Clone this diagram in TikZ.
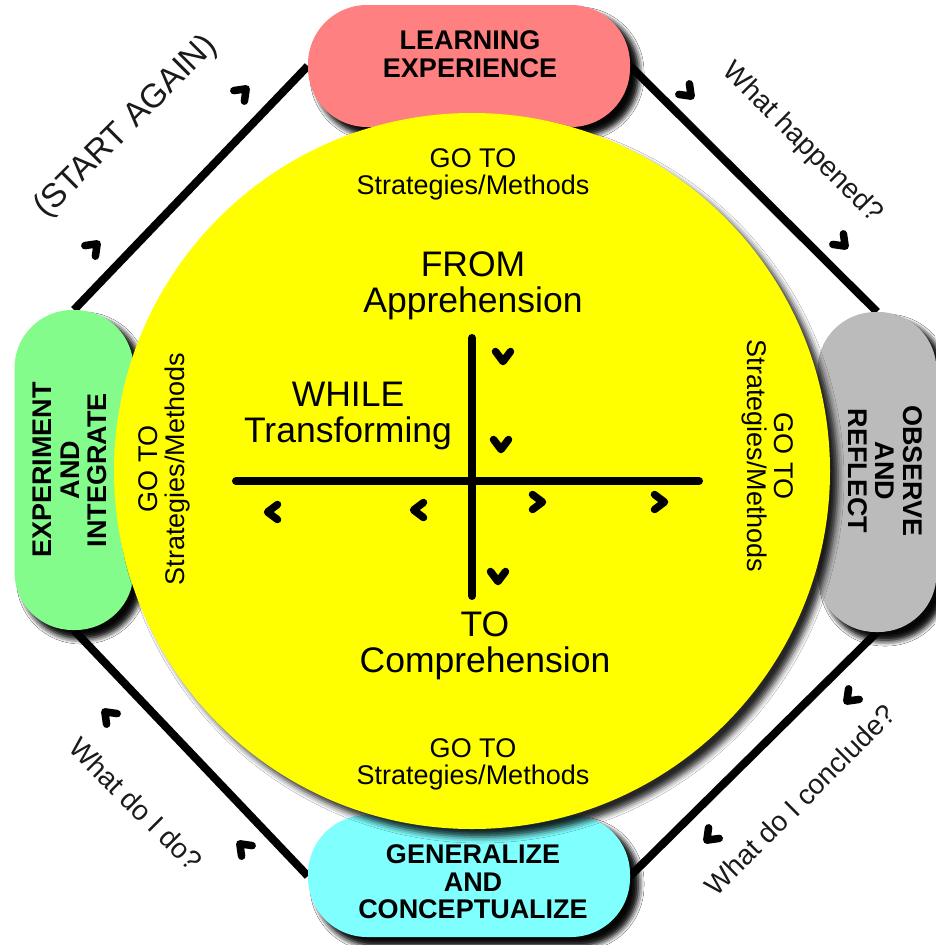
\documentclass[tikz,border=0pt]{standalone}
\usepackage{fontspec}
\setmainfont{Liberation Sans}
\usetikzlibrary{shadows.blur}
\definecolor{pinkbox}{HTML}{FF8080}
\definecolor{graybox}{HTML}{BBBBBB}
\definecolor{greenbox}{HTML}{84FC8C}
\definecolor{cyanbox}{HTML}{80FFFF}
\definecolor{yell}{HTML}{FFFF00}
\definecolor{sidetxt}{HTML}{1A1A1A}
\begin{document}
\begin{tikzpicture}[x=1pt,y=-1pt,
  shad/.style={blur shadow={shadow xshift=8pt, shadow yshift=-8pt, shadow blur radius=6pt, shadow opacity=85}},
  hpill/.style={rectangle, rounded corners=59pt, minimum width=322pt, minimum height=122pt, inner sep=0pt, shad},
  vpill/.style={rectangle, rounded corners=58pt, minimum width=119pt, minimum height=320pt, inner sep=0pt, shad},
  conn/.style={line width=8pt},
  boxtxt/.style={align=center, inner sep=0pt, font=\bfseries\fontsize{27}{27.5}\selectfont},
  lbl/.style={align=center, inner sep=0pt, font=\fontsize{27}{27}\selectfont},
  big/.style={align=center, inner sep=0pt, font=\fontsize{35.5}{35.5}\selectfont},
  side/.style={inner sep=0pt, text=sidetxt, font=\fontsize{28}{28}\selectfont},
  chev/.pic={\draw[line width=7.5pt, line cap=round, line join=round] (-5.5,-7.5) -- (4.5,0) -- (-5.5,7.5);}
]
\useasboundingbox[fill=white] (0,0) rectangle (935,945);

% boxes (positions first, so connectors can be drawn underneath)
\path node[hpill] (learn) at (469,66) {}
      node[vpill] (obs) at (877,472) {}
      node[vpill] (exp) at (74,470) {}
      node[hpill] (gen) at (469,876) {};

% outer connectors
\draw[conn] (learn.west) -- (exp.north);
\draw[conn] (learn.east) -- (obs.north);
\draw[conn] (obs.south) -- (gen.east);
\draw[conn] (gen.west) -- (exp.south);

% redraw boxes on top of connectors
\node[hpill, fill=pinkbox] (learnbox) at (learn) {};
\node[vpill, fill=graybox] (obsbox) at (obs) {};
\node[vpill, fill=greenbox] (expbox) at (exp) {};
\node[hpill, fill=cyanbox] (genbox) at (gen) {};

% central disc
\node[circle, fill=yell, minimum size=716pt, inner sep=0pt, shad] (disc) at (472,471) {};

% box texts
\node[boxtxt] (learntxt) at (470,54) {LEARNING\\EXPERIENCE};
\node[boxtxt, rotate=-90] (obstxt) at (885,471) {OBSERVE\\AND\\REFLECT};
\node[boxtxt, rotate=90] (exptxt) at (70,470) {EXPERIMENT\\AND\\INTEGRATE};
\node[boxtxt] (gentxt) at (473,882) {GENERALIZE\\AND\\CONCEPTUALIZE};

% cross
\coordinate (vt) at (472,338);
\coordinate (vb) at (472,596);
\coordinate (hl) at (236,481);
\coordinate (hr) at (699,481);
\draw[line width=8pt, line cap=round] (vt) -- (vb);
\draw[line width=8pt, line cap=round] (hl) -- (hr);

% inner chevrons
\pic[rotate=-90] at (503,357) {chev};
\pic[rotate=-90] at (501,445) {chev};
\pic[rotate=-90] at (498,577) {chev};
\pic[rotate=180] at (272,512) {chev};
\pic[rotate=180] at (418,510) {chev};
\pic at (538,502) {chev};
\pic at (660,502) {chev};

% outer chevrons
\pic[rotate=45] at (94,247) {chev};
\pic[rotate=45] at (243,92) {chev};
\pic[rotate=-45] at (688,93) {chev};
\pic[rotate=-45] at (842,243) {chev};
\pic[rotate=-135] at (850,698) {chev};
\pic[rotate=-135] at (710,837) {chev};
\pic[rotate=135] at (108,715) {chev};
\pic[rotate=135] at (243,847) {chev};

% disc texts
\node[lbl] (gotop) at (473,174) {GO TO\\Strategies/Methods};
\node[lbl] (gobot) at (473,764) {GO TO\\Strategies/Methods};
\node[lbl, rotate=90] (goleft) at (164,469) {GO TO\\Strategies/Methods};
\node[lbl, rotate=-90] (goright) at (768,456) {GO TO\\Strategies/Methods};
\node[big] (from) at (473,286) {FROM\\Apprehension};
\node[big] (while) at (348,416) {WHILE\\Transforming};
\node[big] (to) at (485,646) {TO\\Comprehension};

% outer labels
\node[side, rotate=45, font=\fontsize{33.5}{33.5}\selectfont] (start) at (126,127) {(START AGAIN)};
\node[side, rotate=-45] (happened) at (802,143) {What happened?};
\node[side, rotate=45] (conclude) at (800,800) {What do I conclude?};
\node[side, rotate=-45] (whatdo) at (136,804) {What do I do?};
\end{tikzpicture}
\end{document}
